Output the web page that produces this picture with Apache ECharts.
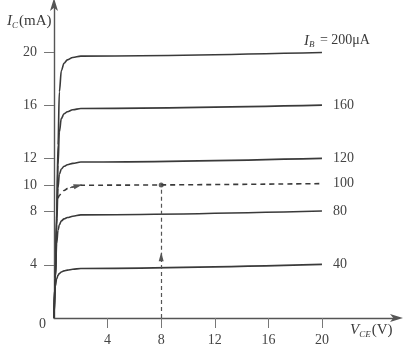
<!DOCTYPE html>
<html><head><meta charset="utf-8">
<script src="https://cdn.jsdelivr.net/npm/echarts@6/dist/echarts.min.js"></script>
<style>html,body{margin:0;padding:0;background:#fff}#c{width:405px;height:354px}</style>
</head><body><div id="c"></div>
<script>
// V_CE sample points (V)
const vce = [0, 0.1, 0.2, 0.3, 0.4, 0.55, 0.75, 1.0, 1.4, 2, 20];
// I_C (mA) for each I_B curve
const ib200 = [0, 3, 8, 13, 17.0, 18.6, 19.15, 19.4, 19.58, 19.68, 19.95];
const ib160 = [0, 3, 7.5, 11.5, 14.0, 15.0, 15.35, 15.5, 15.65, 15.75, 16.0];
const ib120 = [0, 3, 7, 9.8, 10.8, 11.2, 11.4, 11.52, 11.62, 11.72, 12.0];
const ib100 = [null, null, null, 9.0, 9.2, 9.4, 9.58, 9.72, 9.85, 9.98, 10.1];
const ib80  = [0, 3, 5.6, 6.6, 7.0, 7.3, 7.45, 7.55, 7.65, 7.75, 8.04];
const ib40  = [0, 2.4, 2.95, 3.2, 3.35, 3.46, 3.54, 3.6, 3.66, 3.72, 4.03];
const curveLabels = ['200', '160', '120', '100', '80', '40'];
const xTicks = [4, 8, 12, 16, 20];
const yTicks = [4, 8, 10, 12, 16, 20];
// operating point
const qV = 8, qI = 10, arrowI = 4.6;
const knee100 = [[1.2, 9.79], [1.8, 9.95]];

const ink = '#3a3a3a';
const font = 'Liberation Serif';
function pts(arr) { return vce.map((v, i) => arr[i] == null ? null : [v, arr[i]]).filter(p => p); }

const chart = echarts.init(document.getElementById('c'), null, {renderer: 'canvas'});
function curve(name, arr, label, dashed, rich) {
  return {
    type: 'line', name: name, data: pts(arr), smooth: 0.35, smoothMonotone: 'x',
    symbol: 'none', clip: false,
    lineStyle: {color: ink, width: 1.6, type: dashed ? [5, 4] : 'solid'},
    endLabel: rich ? {
      show: true, distance: 0, offset: [-18, -12],
      formatter: '{i|I}{s|B}{n| = ' + label + 'μA}',
      rich: {
        i: {fontFamily: font, fontStyle: 'italic', fontSize: 15, color: ink, lineHeight: 18},
        s: {fontFamily: font, fontStyle: 'italic', fontSize: 9, color: ink, lineHeight: 18, padding: [8, 2, 0, 0]},
        n: {fontFamily: font, fontSize: 14, color: ink, lineHeight: 18}
      }
    } : {show: true, distance: 11, formatter: label, fontFamily: font, fontSize: 14, color: '#444'},
    z: 3
  };
}
const series = [
  curve('200', ib200, curveLabels[0], false, true),
  curve('160', ib160, curveLabels[1]),
  curve('120', ib120, curveLabels[2]),
  curve('100', ib100, curveLabels[3], true),
  curve('80', ib80, curveLabels[4]),
  curve('40', ib40, curveLabels[5]),
  {
    type: 'scatter', data: [[qV, qI]], symbol: 'circle', symbolSize: 5,
    itemStyle: {color: ink}, z: 4,
    markLine: {
      silent: true, animation: false, symbol: ['none', 'none'],
      lineStyle: {color: '#555', width: 1.2, type: [4, 3]},
      label: {show: false},
      data: [
        [{coord: [qV, 0], symbol: 'none'}, {coord: [qV, arrowI], symbol: 'triangle', symbolSize: [5, 9]}],
        [{coord: [qV, arrowI], symbol: 'none'}, {coord: [qV, qI], symbol: 'none'}],
        [{coord: knee100[0], symbol: 'none'}, {coord: knee100[1], symbol: 'triangle', symbolSize: [5, 9]}]
      ]
    }
  }
];

chart.setOption({
  animation: false,
  backgroundColor: '#fff',
  grid: {left: 54, right: 8, top: 4, bottom: 36, containLabel: false},
  xAxis: {
    type: 'value', min: 0, max: 25.6,
    axisLine: {show: true, lineStyle: {color: '#555', width: 1.4}, symbol: ['none', 'arrow'], symbolSize: [6, 13], symbolOffset: [0, 6]},
    axisTick: {show: true, customValues: xTicks, length: 10, lineStyle: {color: '#777'}},
    axisLabel: {customValues: xTicks, margin: 15, fontFamily: font, fontSize: 14, color: '#444'},
    splitLine: {show: false}
  },
  yAxis: {
    type: 'value', min: 0, max: 23.6,
    axisLine: {show: true, lineStyle: {color: '#555', width: 1.4}, symbol: ['none', 'arrow'], symbolSize: [6, 13], symbolOffset: [0, 6]},
    axisTick: {show: true, customValues: yTicks, length: 10, lineStyle: {color: '#777'}},
    axisLabel: {customValues: yTicks, margin: 17, fontFamily: font, fontSize: 14, color: '#444'},
    splitLine: {show: false}
  },
  graphic: [
    {type: 'text', left: 7, top: 13, style: {
      text: '{i|I}{s|C}{n|(mA)}', fill: ink,
      rich: {
        i: {fontFamily: font, fontStyle: 'italic', fontSize: 15, lineHeight: 18, fill: ink},
        s: {fontFamily: font, fontStyle: 'italic', fontSize: 9, lineHeight: 18, padding: [8, 1, 0, 0], fill: ink},
        n: {fontFamily: font, fontSize: 15, lineHeight: 18, fill: ink}
      }}},
    {type: 'text', left: 350, top: 322, style: {
      text: '{i|V}{s|CE}{n|(V)}', fill: ink,
      rich: {
        i: {fontFamily: font, fontStyle: 'italic', fontSize: 15, lineHeight: 18, fill: ink},
        s: {fontFamily: font, fontStyle: 'italic', fontSize: 9, lineHeight: 18, padding: [8, 1, 0, 0], fill: ink},
        n: {fontFamily: font, fontSize: 15, lineHeight: 18, fill: ink}
      }}},
    {type: 'text', left: 39, top: 317, style: {text: '0', fontFamily: font, fontSize: 14, fill: '#444'}}
  ],
  series: series
});
</script></body></html>
